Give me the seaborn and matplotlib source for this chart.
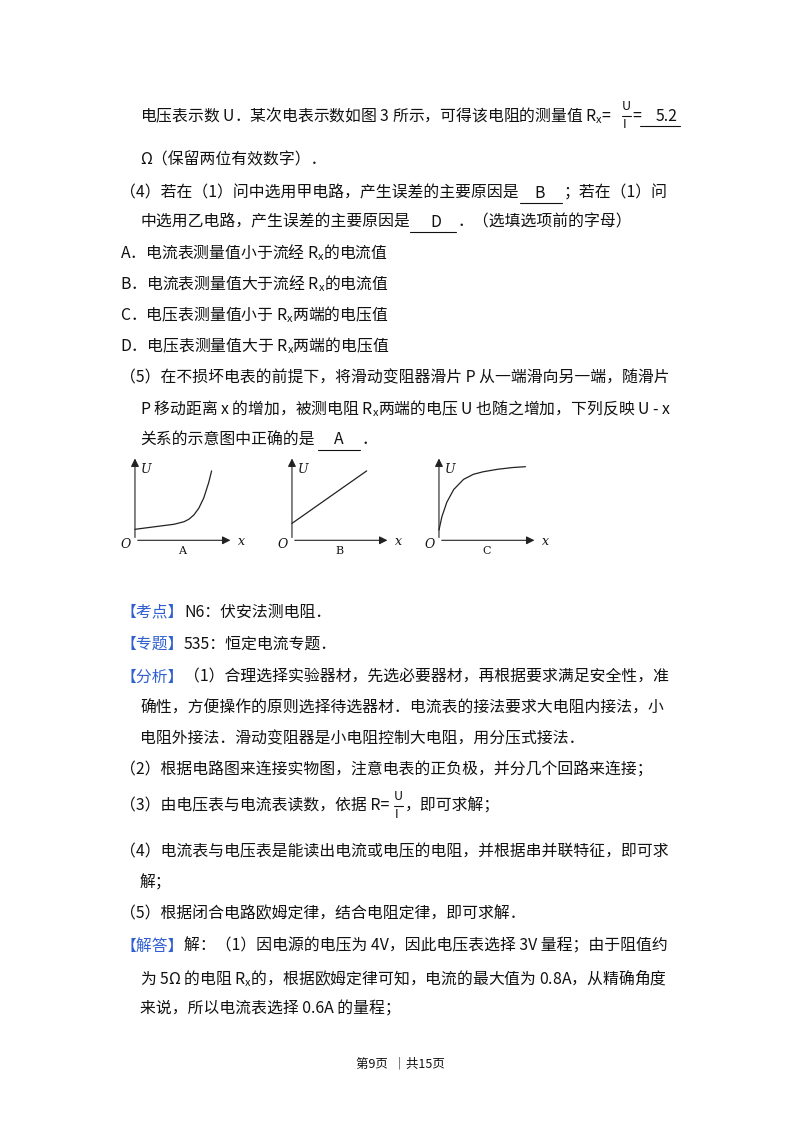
import numpy as np
import seaborn as sns
import pandas as pd
from matplotlib import pyplot as plt

sns.set_theme(style='white')
plt.rcParams['font.family'] = ['Noto Sans CJK SC', 'DejaVu Sans']

# curve data for the three U-x sketches (relative units)
x_a = [0, 0.1, 0.2, 0.3, 0.4, 0.5, 0.55, 0.6, 0.65, 0.7, 0.75, 0.78]
u_a = [0.13, 0.145, 0.16, 0.175, 0.19, 0.22, 0.25, 0.3, 0.38, 0.5, 0.68, 0.82]
x_b = [0, 0.76]
u_b = [0.2, 0.82]
x_c = [0, 0.03, 0.08, 0.15, 0.25, 0.35, 0.45, 0.6, 0.75, 0.88]
u_c = [0.12, 0.28, 0.45, 0.6, 0.72, 0.78, 0.81, 0.84, 0.86, 0.87]
labels = ['A', 'B', 'C']

W, H = 800, 1132
fig = plt.figure(figsize=(8, 11.32), dpi=100)
fig.patch.set_facecolor('white')
BLUE = '#3060d0'
RX = 'R$\\mathregular{_x}$'


def t(x, y, s, color='#111111', size=11.4, **kw):
    fig.text(x / W, 1 - y / H, s, color=color, fontsize=size, va='center', ha='left', **kw)


def hline(x0, x1, y):
    fig.add_artist(plt.Line2D([x0 / W, x1 / W], [1 - y / H, 1 - y / H], color='#111111', lw=0.8))


def frac(x, y):
    t(x, y - 9, 'U', size=9)
    hline(x, x + 9, y)
    t(x + 1, y + 9, 'I', size=9)


t(140, 116, '电压表示数 U．某次电表示数如图 3 所示，可得该电阻的测量值 ' + RX + '=')
frac(622, 116)
t(632, 116, '=')
t(656, 116, '5.2')
hline(640, 680, 126)
t(140, 160, 'Ω（保留两位有效数字）．')
t(120, 193, '（4）若在（1）问中选用甲电路，产生误差的主要原因是')
t(534, 193, 'B')
hline(520, 562, 203)
t(564, 193, '；若在（1）问')
t(140, 222, '中选用乙电路，产生误差的主要原因是')
t(430, 222, 'D')
hline(410, 456, 232)
t(458, 222, '．（选填选项前的字母）')
t(120, 253, 'A．电流表测量值小于流经 ' + RX + '的电流值')
t(120, 284, 'B．电流表测量值大于流经 ' + RX + '的电流值')
t(120, 315, 'C．电压表测量值小于 ' + RX + '两端的电压值')
t(120, 346, 'D．电压表测量值大于 ' + RX + '两端的电压值')
t(120, 378, '（5）在不损坏电表的前提下，将滑动变阻器滑片 P 从一端滑向另一端，随滑片')
t(140, 409, 'P 移动距离 x 的增加，被测电阻 ' + RX + '两端的电压 U 也随之增加，下列反映 U - x')
t(140, 440, '关系的示意图中正确的是')
t(334, 440, 'A')
hline(318, 360, 450)
t(362, 440, '．')

# the three sketches
origins = [133, 290, 437]
series = [(x_a, u_a), (x_b, u_b), (x_c, u_c)]
for ox, (xs, us), lab in zip(origins, series, labels):
    ax = fig.add_axes([ox / W, 1 - 542 / H, 112 / W, 88 / H])
    df = pd.DataFrame({'x': xs, 'U': us})
    sns.lineplot(data=df, x='x', y='U', ax=ax, color='#222222', lw=0.9)
    ax.annotate('', xy=(1.0, 0), xytext=(0, 0), arrowprops=dict(arrowstyle='-|>', lw=0.8, color='#222222'))
    ax.annotate('', xy=(0, 1.0), xytext=(0, 0), arrowprops=dict(arrowstyle='-|>', lw=0.8, color='#222222'))
    ax.set_xlim(-0.02, 1.12)
    ax.set_ylim(-0.02, 1.02)
    ax.axis('off')
    t(ox - 12, 544, 'O', size=9, style='italic', family='DejaVu Serif')
    t(ox + 105, 541, 'x', size=9, style='italic', family='DejaVu Serif')
    t(ox + 8, 469, 'U', size=9, style='italic', family='DejaVu Serif')
    t(ox + 45, 551, lab, size=8, family='DejaVu Serif')

t(120, 612, '【考点】', color=BLUE)
t(184, 612, 'N6：伏安法测电阻．')
t(120, 644, '【专题】', color=BLUE)
t(184, 644, '535：恒定电流专题．')
t(120, 677, '【分析】', color=BLUE)
t(184, 677, '（1）合理选择实验器材，先选必要器材，再根据要求满足安全性，准')
t(140, 708, '确性，方便操作的原则选择待选器材．电流表的接法要求大电阻内接法，小')
t(140, 739, '电阻外接法．滑动变阻器是小电阻控制大电阻，用分压式接法．')
t(120, 770, '（2）根据电路图来连接实物图，注意电表的正负极，并分几个回路来连接；')
t(120, 806, '（3）由电压表与电流表读数，依据 R=')
frac(394, 806)
t(405, 806, '，即可求解；')
t(120, 852, '（4）电流表与电压表是能读出电流或电压的电阻，并根据串并联特征，即可求')
t(140, 883, '解；')
t(120, 914, '（5）根据闭合电路欧姆定律，结合电阻定律，即可求解．')
t(120, 946, '【解答】', color=BLUE)
t(184, 946, '解：（1）因电源的电压为 4V，因此电压表选择 3V 量程；由于阻值约')
t(140, 978, '为 5Ω 的电阻 ' + RX + '的，根据欧姆定律可知，电流的最大值为 0.8A，从精确角度')
t(140, 1009, '来说，所以电流表选择 0.6A 的量程；')
fig.text(0.5, 1 - 1064 / H, '第9页  ｜共15页', ha='center', va='center', fontsize=9, color='#111111')

fig.savefig('out.png', dpi=100, facecolor='white')
